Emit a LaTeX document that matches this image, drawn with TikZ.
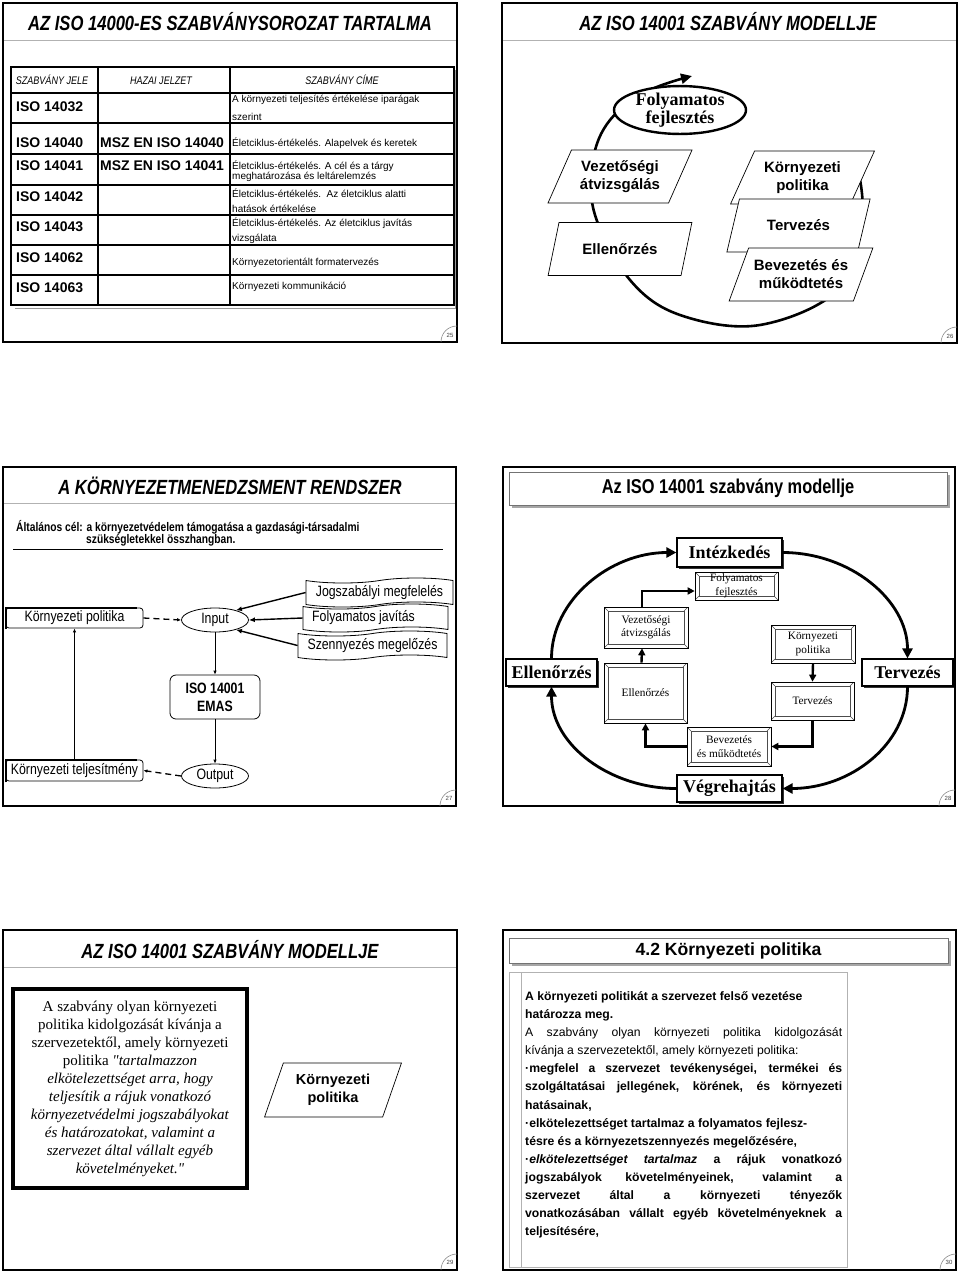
\documentclass[tikz,border=0pt]{standalone}
\usepackage{fontspec}
\setmainfont{Liberation Serif}
\newfontfamily\serifq{Liberation Serif}[Ligatures=TeXOff]
\newfontfamily\arial{Liberation Sans}
\newfontfamily\narrow[FakeStretch=0.82]{Liberation Sans}
\newfontfamily\narrowt[FakeStretch=0.81]{Liberation Sans}
\usetikzlibrary{arrows.meta,shapes.geometric,shapes.symbols,shadows}
\newcommand\fs[2]{\fontsize{#1}{#2}\selectfont}
\newcommand\jl[1]{\makebox[317pt][s]{#1}}
\begin{document}
\begin{tikzpicture}[x=1pt,y=-1pt,
  every node/.style={inner sep=0pt},
  frame/.style={line width=2.4pt},
  sepl/.style={draw=black!30, line width=0.8pt},
  ttl/.style={font=\narrowt\bfseries\itshape\fs{20.5}{24}},
  pn/.style={font=\arial\fs{6}{7}, text=black!75},
  pnarc/.style={draw=black!45, line width=0.6pt},
  tline/.style={line width=1.3pt},
  hdr/.style={font=\narrow\itshape\fs{11}{13}},
  rowl/.style={font=\arial\bfseries\fs{14}{16}, anchor=west},
  cell/.style={font=\arial\fs{10}{12}, anchor=west},
  para/.style={trapezium, trapezium left angle=59, trapezium right angle=121,
    trapezium stretches=true, draw, fill=white, line width=0.7pt,
    minimum width=144pt, minimum height=53pt, align=center,
    font=\arial\bfseries\fs{15}{18}},
  nbox/.style={draw, rounded corners=3pt, fill=white, line width=0.8pt,
    minimum width=137pt, minimum height=20pt, font=\narrow\fs{15}{17}},
  ell/.style={ellipse, draw, fill=white, line width=0.8pt, minimum width=67pt,
    minimum height=24pt, font=\narrow\fs{15}{17}},
  tp/.style={tape, draw, fill=white, line width=0.8pt, tape bend height=5pt,
    font=\narrow\fs{15}{17}},
  arrA/.style={line width=1.4pt, -{Latex[length=6pt,width=5pt]}},
  arrS/.style={line width=1pt, -{Latex[length=4pt,width=3.5pt]}},
  dashA/.style={line width=1.3pt, dash pattern=on 6pt off 4pt, -{Latex[length=4pt,width=3.5pt]}},
  bigb/.style={draw, fill=white, line width=1.2pt, font=\bfseries\fs{18}{20},
    drop shadow={shadow xshift=2pt, shadow yshift=-2pt, fill=black, opacity=0.8}},
  bevel/.style={draw, fill=white, line width=0.7pt, align=center, font=\fs{11.3}{13.5},
    path picture={
      \draw[line width=0.5pt, black!70]
        ([shift={(4pt,-4pt)}]path picture bounding box.north west) rectangle
        ([shift={(-4pt,4pt)}]path picture bounding box.south east);
      \draw[line width=0.5pt, black!70]
        (path picture bounding box.north west) -- ++(4pt,-4pt)
        (path picture bounding box.north east) -- ++(-4pt,-4pt)
        (path picture bounding box.south west) -- ++(4pt,4pt)
        (path picture bounding box.south east) -- ++(-4pt,4pt);}},
  bigarr/.style={line width=2.8pt, -{Triangle[length=10pt,width=10pt]}},
  inarr/.style={line width=2.4pt, -{Triangle[length=7pt,width=7pt]}},
  tbox/.style={draw=black!55, fill=white, line width=0.8pt,
    drop shadow={shadow xshift=2.5pt, shadow yshift=-2.5pt, fill=black, opacity=0.35}},
  s30/.style={anchor=base west, font=\arial\fs{12.2}{14}}
]
\useasboundingbox (0,0) rectangle (960,1272);
\fill[white] (0,0) rectangle (960,1272);

% ================= Slide 25 =================
\draw[frame] (3,3) rectangle (457,342);
\draw[sepl] (4,40) -- (456,40);
\node[ttl] (t25) at (230,22) {AZ ISO 14000-ES SZABVÁNYSOROZAT TARTALMA};
\draw[black!40, line width=1pt] (15,308) -- (455,308) -- (455,70);
\draw[tline, fill=white] (11,67) rectangle (454,305);
\foreach \yy in {93,123,154,185,215,245,275} \draw[tline] (11,\yy) -- (454,\yy);
\draw[tline] (98,67) -- (98,305);
\draw[tline] (230,67) -- (230,305);
\node[hdr] (h1) at (52,80) {SZABVÁNY JELE};
\node[hdr] (h2) at (161,81) {HAZAI JELZET};
\node[hdr] (h3) at (342,80) {SZABVÁNY CÍME};
\node[rowl] (r1) at (16,107) {ISO 14032};
\node[rowl] (r2) at (16,143) {ISO 14040};
\node[rowl] (r3) at (16,166) {ISO 14041};
\node[rowl] (r4) at (16,197) {ISO 14042};
\node[rowl] (r5) at (16,227) {ISO 14043};
\node[rowl] (r6) at (16,258) {ISO 14062};
\node[rowl] (r7) at (16,288) {ISO 14063};
\node[rowl] (m2) at (100,143) {MSZ EN ISO 14040};
\node[rowl] (m3) at (100,166) {MSZ EN ISO 14041};
\node[cell] (c1a) at (232,99.5) {A környezeti teljesítés értékelése iparágak};
\node[cell] (c1b) at (232,117) {szerint};
\node[cell] (c2) at (232,143) {Életciklus-értékelés. Alapelvek és keretek};
\node[cell] (c3a) at (232,166) {Életciklus-értékelés. A cél és a tárgy};
\node[cell] (c3b) at (232,177) {meghatározása és leltárelemzés};
\node[cell] (c4a) at (232,193) {Életciklus-értékelés.\ \ Az életciklus alatti};
\node[cell] (c4b) at (232,209) {hatások értékelése};
\node[cell] (c5a) at (232,223) {Életciklus-értékelés. Az életciklus javítás};
\node[cell] (c5b) at (232,239) {vizsgálata};
\node[cell] (c6) at (232,263) {Környezetorientált formatervezés};
\node[cell] (c7) at (232,287) {Környezeti kommunikáció};
\draw[pnarc] (441,342) .. controls (441,333) and (448,326) .. (457,326);
\node[pn] (p25) at (450,335) {25};

% ================= Slide 26 =================
\draw[frame] (502,3) rectangle (957,343);
\draw[sepl] (503,40) -- (956,40);
\node[ttl] (t26) at (728,22) {AZ ISO 14001 SZABVÁNY MODELLJE};
\draw[line width=2.6pt, -{Triangle[length=11pt,width=10pt]}] plot[smooth, tension=0.6]
  coordinates {(857,166) (862,215) (840,288) (760,325) (680,315) (630,280) (595,215)
  (593,160) (610,120) (648,91) (692,76)};
\node[para] (kor26) at (802.5,177.5) {Környezeti\\politika};
\node[para] (ter26) at (798.5,225.5) {Tervezés};
\node[para] (bev26) at (801,274.5) {Bevezetés és\\működtetés};
\node[para] (vez26) at (620,176.5) {Vezetőségi\\átvizsgálás};
\node[para] (ell26) at (620,249) {Ellenőrzés};
\node[ellipse, draw, line width=2.4pt, fill=white, minimum width=132pt, minimum height=38pt,
  align=center, font=\bfseries\fs{18}{15}] (fol26) at (680,110) {Folyamatos\\fejlesztés};
\draw[pnarc] (941,343) .. controls (941,334) and (948,327) .. (957,327);
\node[pn] (p26) at (950,336) {26};

% ================= Slide 27 =================
\draw[frame] (3,467) rectangle (456,806);
\draw[sepl] (4,503) -- (455,503);
\node[ttl] (t27) at (230,486) {A KÖRNYEZETMENEDZSMENT RENDSZER};
\node[anchor=west, font=\narrow\bfseries\fs{12.5}{14}] (g1) at (16,527)
  {Általános cél: a környezetvédelem támogatása a gazdasági-társadalmi};
\node[anchor=west, font=\narrow\bfseries\fs{12.5}{14}] (g2) at (86,540)
  {szükségletekkel összhangban.};
\draw[line width=0.7pt] (13,549) -- (443,549);
\node[nbox] (kp27) at (74.5,618) {Környezeti politika};
\draw[line width=2.2pt] ([yshift=-1pt]kp27.south west) -- (kp27.north west) -- ([xshift=-6pt]kp27.north east);
\node[ell] (inp) at (215,620) {Input};
\node[tp, minimum width=147pt, minimum height=29pt] (jog) at (379.5,592.5) {Jogszabályi megfelelés};
\node[tp, minimum width=145pt, minimum height=28pt] (fj) at (375.5,618) {Folyamatos javítás\hspace*{24pt}};
\node[tp, minimum width=149pt, minimum height=29pt] (sz) at (372.5,645.5) {Szennyezés megelőzés};
\draw[arrA] (jog.west) -- (inp.25);
\draw[arrA] (fj.west) -- (inp.east);
\draw[arrA] (sz.west) -- (inp.-25);
\node[draw, rounded corners=6pt, fill=white, line width=0.8pt, minimum width=90pt,
  minimum height=44pt, align=center, font=\narrow\bfseries\fs{15}{18}] (emas) at (215,697) {ISO 14001\\EMAS};
\node[ell] (out) at (215,776) {Output};
\node[nbox, minimum height=21pt] (kt) at (74.5,770.5) {Környezeti teljesítmény};
\draw[line width=2.2pt] ([yshift=-1pt]kt.south west) -- (kt.north west) -- ([xshift=-6pt]kt.north east);
\draw[dashA] (kp27.east) -- (inp.west);
\draw[arrS] (inp.south) -- (emas.north);
\draw[arrS] (emas.south) -- (out.north);
\draw[dashA] (out.west) -- (kt.east);
\draw[arrS] (kt.north) -- (kp27.south);
\draw[pnarc] (440,806) .. controls (440,797) and (447,790) .. (456,790);
\node[pn] (p27) at (449,798) {27};

% ================= Slide 28 =================
\draw[frame] (503,467) rectangle (955,806);
\node[tbox, minimum width=438pt, minimum height=33pt, font=\narrow\bfseries\fs{20}{22}] (t28) at (728,488.5)
  {Az ISO 14001 szabvány modellje};
\node[bigb, minimum width=105pt, minimum height=29pt] (int) at (729.5,552.5) {Intézkedés};
\node[bigb, minimum width=91pt, minimum height=27pt] (ellb) at (551.5,672.5) {Ellenőrzés};
\node[bigb, minimum width=91pt, minimum height=27pt] (terb) at (907.5,672.5) {Tervezés};
\node[bigb, minimum width=105pt, minimum height=27pt] (veg) at (729.5,788.5) {Végrehajtás};
\draw[bigarr] (ellb.north) .. controls (551.5,600) and (610,552.5) .. (int.west);
\draw[bigarr] (int.east) .. controls (850,552.5) and (907.5,600) .. (terb.north);
\draw[bigarr] (terb.south) .. controls (907.5,745) and (850,788.5) .. (veg.east);
\draw[bigarr] (veg.west) .. controls (610,788.5) and (551.5,745) .. (ellb.south);
\node[bevel, minimum width=83pt, minimum height=28pt] (fol) at (736.5,586) {Folyamatos\\fejlesztés};
\node[bevel, minimum width=84pt, minimum height=41pt] (vez) at (646,627.5) {Vezetőségi\\átvizsgálás};
\node[bevel, minimum width=84pt, minimum height=38pt] (kor) at (813,644) {Környezeti\\politika};
\node[bevel, minimum width=83pt, minimum height=60pt] (elli) at (645.5,693) {Ellenőrzés};
\node[bevel, minimum width=83pt, minimum height=38pt] (teri) at (812.5,701) {Tervezés};
\node[bevel, minimum width=84pt, minimum height=39pt] (bev) at (729,746.5) {Bevezetés\\és működtetés};
\draw[inarr] ([xshift=-4pt]vez.north) |- ([yshift=-5pt]fol.west);
\draw[inarr] ([xshift=-4pt]elli.north) -- ([xshift=-4pt]vez.south);
\draw[inarr] (kor.south) -- (teri.north);
\draw[inarr] (teri.south) |- (bev.east);
\draw[inarr] (bev.west) -| (elli.south);
\draw[pnarc] (939,806) .. controls (939,797) and (946,790) .. (955,790);
\node[pn] (p28) at (948,798) {28};

% ================= Slide 29 =================
\draw[frame] (3,930) rectangle (457,1270);
\draw[sepl] (4,967) -- (456,967);
\node[ttl] (t29) at (230,950) {AZ ISO 14001 SZABVÁNY MODELLJE};
\node[draw, line width=3.5pt, fill=white, minimum width=234pt, minimum height=199pt,
  align=center, font=\serifq\fs{15}{18}] (q29) at (130,1088.5)
  {A szabvány olyan környezeti\\
   politika kidolgozását kívánja a\\
   szervezetektől, amely környezeti\\
   politika \textit{"tartalmazzon}\\
   \textit{elkötelezettséget arra, hogy}\\
   \textit{teljesítik a rájuk vonatkozó}\\
   \textit{környezetvédelmi jogszabályokat}\\
   \textit{és határozatokat, valamint a}\\
   \textit{szervezet által vállalt egyéb}\\
   \textit{követelményeket."}};
\node[para, trapezium left angle=66, trapezium right angle=114, minimum width=137pt,
  minimum height=54pt, font=\arial\bfseries\fs{14.5}{18}] (kp29) at (333,1090) {Környezeti\\politika};
\draw[pnarc] (441,1270) .. controls (441,1261) and (448,1254) .. (457,1254);
\node[pn] (p29) at (450,1262) {29};

% ================= Slide 30 =================
\draw[frame] (503,930) rectangle (956,1270);
\node[tbox, minimum width=439pt, minimum height=25pt, font=\arial\bfseries\fs{17.6}{20}] (t30) at (728.5,950.5)
  {4.2 Környezeti politika};
\draw[black!30, line width=0.8pt] (509,972) rectangle (847,1267);
\draw[black!30, line width=0.8pt] (521,972) -- (521,1267);
\node[s30] (l1) at (525,1000.5) {\bfseries A környezeti politikát a szervezet felső vezetése};
\node[s30] (l2) at (525,1018.6) {\bfseries határozza meg.};
\node[s30] (l3) at (525,1036.7) {\jl{A szabvány olyan környezeti politika kidolgozását}};
\node[s30] (l4) at (525,1054.7) {kívánja a szervezetektől, amely környezeti politika:};
\node[s30] (l5) at (525,1072.8) {\bfseries\jl{·megfelel a szervezet tevékenységei, termékei és}};
\node[s30] (l6) at (525,1090.9) {\bfseries\jl{szolgáltatásai jellegének, körének, és környezeti}};
\node[s30] (l7) at (525,1109.0) {\bfseries hatásainak,};
\node[s30] (l8) at (525,1127.1) {\bfseries ·elkötelezettséget tartalmaz a folyamatos fejlesz-};
\node[s30] (l9) at (525,1145.1) {\bfseries tésre és a környezetszennyezés megelőzésére,};
\node[s30] (l10) at (525,1163.2) {\bfseries\jl{·\textit{elkötelezettséget tartalmaz} a rájuk vonatkozó}};
\node[s30] (l11) at (525,1181.3) {\bfseries\jl{jogszabályok követelményeinek, valamint a}};
\node[s30] (l12) at (525,1199.4) {\bfseries\jl{szervezet által a környezeti tényezők}};
\node[s30] (l13) at (525,1217.5) {\bfseries\jl{vonatkozásában vállalt egyéb követelményeknek a}};
\node[s30] (l14) at (525,1235.5) {\bfseries teljesítésére,};
\draw[pnarc] (940,1270) .. controls (940,1261) and (947,1254) .. (956,1254);
\node[pn] (p30) at (949,1262) {30};
\end{tikzpicture}
\end{document}
